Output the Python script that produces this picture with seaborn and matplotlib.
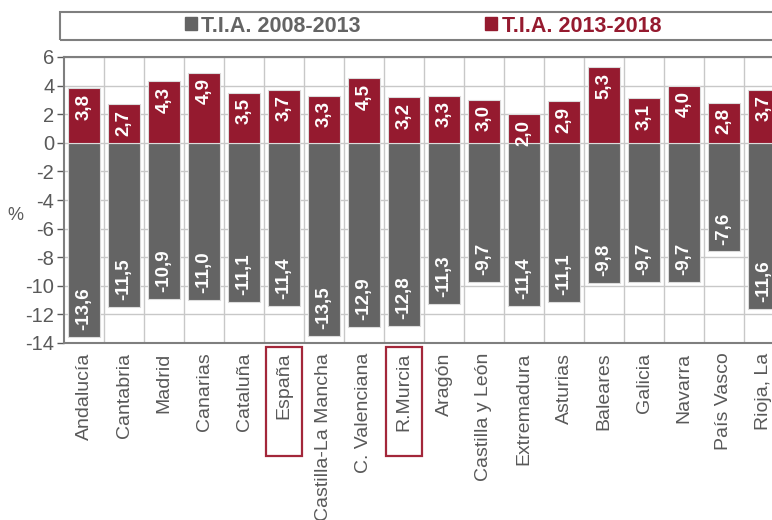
import matplotlib
matplotlib.use("Agg")
import matplotlib.pyplot as plt
import matplotlib.transforms as mtransforms
from matplotlib.patches import Rectangle
import seaborn as sns
import pandas as pd

# data
regions = ["Andalucía", "Cantabria", "Madrid", "Canarias", "Cataluña", "España",
           "Castilla-La Mancha", "C. Valenciana", "R.Murcia", "Aragón",
           "Castilla y León", "Extremadura", "Asturias", "Baleares", "Galicia",
           "Navarra", "País Vasco", "Rioja, La"]
tia_2008_2013 = [-13.6, -11.5, -10.9, -11.0, -11.1, -11.4, -13.5, -12.9, -12.8,
                 -11.3, -9.7, -11.4, -11.1, -9.8, -9.7, -9.7, -7.6, -11.6]
tia_2013_2018 = [3.8, 2.7, 4.3, 4.9, 3.5, 3.7, 3.3, 4.5, 3.2,
                 3.3, 3.0, 2.0, 2.9, 5.3, 3.1, 4.0, 2.8, 3.7]
series_names = ["T.I.A. 2008-2013", "T.I.A. 2013-2018"]
highlighted = ["España", "R.Murcia"]

GREY = "#646464"
RED = "#951a2f"
TXT = "#595959"

sns.set_style("white")
plt.rcParams["font.family"] = ["Liberation Sans", "DejaVu Sans"]
plt.rcParams["axes.unicode_minus"] = False

df = pd.DataFrame({"region": regions, "old": tia_2008_2013, "new": tia_2013_2018})

fig = plt.figure(figsize=(7.72, 5.2), dpi=100)
ax = fig.add_axes([64 / 772, 177 / 520, 720 / 772, 286 / 520])

sns.barplot(data=df, x="region", y="old", order=regions, color=GREY, width=0.82,
            edgecolor="#dcdcdc", linewidth=0.8, saturation=1, ax=ax, label=series_names[0])
sns.barplot(data=df, x="region", y="new", order=regions, color=RED, width=0.82,
            edgecolor="#dcdcdc", linewidth=0.8, saturation=1, ax=ax, label=series_names[1])

# value labels inside the bar ends
for i, (a, b) in enumerate(zip(tia_2008_2013, tia_2013_2018)):
    ax.annotate(f"{a:.1f}".replace(".", ","), (i, a), xytext=(0, 5), textcoords="offset points",
                rotation=90, ha="center", va="bottom", color="white", fontsize=13.5, fontweight="bold")
    ax.annotate(f"{b:.1f}".replace(".", ","), (i, b), xytext=(0, -4), textcoords="offset points",
                rotation=90, ha="center", va="top", color="white", fontsize=13.5, fontweight="bold")

ax.set_ylim(-14, 6)
ax.set_xlim(-0.5, len(regions) - 0.5)
ax.set_yticks(range(-14, 7, 2))
ax.set_xlabel("")
ax.set_ylabel("")
ax.set_xticks(range(len(regions)))
ax.set_xticklabels(regions, rotation=90)
ax.set_xticks([i + 0.5 for i in range(len(regions))], minor=True)
ax.tick_params(axis="y", labelsize=14.5, colors=TXT, length=5, width=1, pad=2, left=True)
ax.tick_params(axis="x", which="both", labelsize=14, colors=TXT, length=0, pad=7)
ax.grid(axis="y", color="#c8c8c8", linewidth=1)
ax.grid(axis="x", which="minor", color="#c8c8c8", linewidth=1)
ax.set_axisbelow(True)
for side in ["left", "bottom", "top"]:
    ax.spines[side].set_color("#7f7f7f")
    ax.spines[side].set_linewidth(1.5)
ax.spines["right"].set_visible(False)
if ax.get_legend():
    ax.get_legend().remove()

fig.text(15 / 772, 1 - 215 / 520, "%", fontsize=13, color=TXT, ha="center", va="center")

# red boxes round the highlighted tick labels
trans = mtransforms.blended_transform_factory(ax.transData, fig.transFigure)
for name in highlighted:
    i = regions.index(name)
    ax.add_patch(Rectangle((i - 0.46, 64 / 520), 0.92, 109 / 520, transform=trans,
                           fill=False, edgecolor="#a3273a", linewidth=1.6, clip_on=False))

# legend in a wide box on top
fig.patches.append(Rectangle((60 / 772, 1 - 40 / 520), 740 / 772, 28 / 520,
                             transform=fig.transFigure, fill=False,
                             edgecolor="#7f7f7f", linewidth=1.5))
handles = [Rectangle((0, 0), 1, 1, color=GREY), Rectangle((0, 0), 1, 1, color=RED)]
fig.legend(handles, series_names, loc="center", bbox_to_anchor=(423 / 772, 1 - 26 / 520),
           ncol=2, frameon=False, prop={"weight": "bold", "size": 15.5},
           labelcolor=[GREY, RED], handlelength=0.55, handleheight=0.55,
           handletextpad=0.2, columnspacing=5.8)

fig.savefig("out.png", dpi=100)
